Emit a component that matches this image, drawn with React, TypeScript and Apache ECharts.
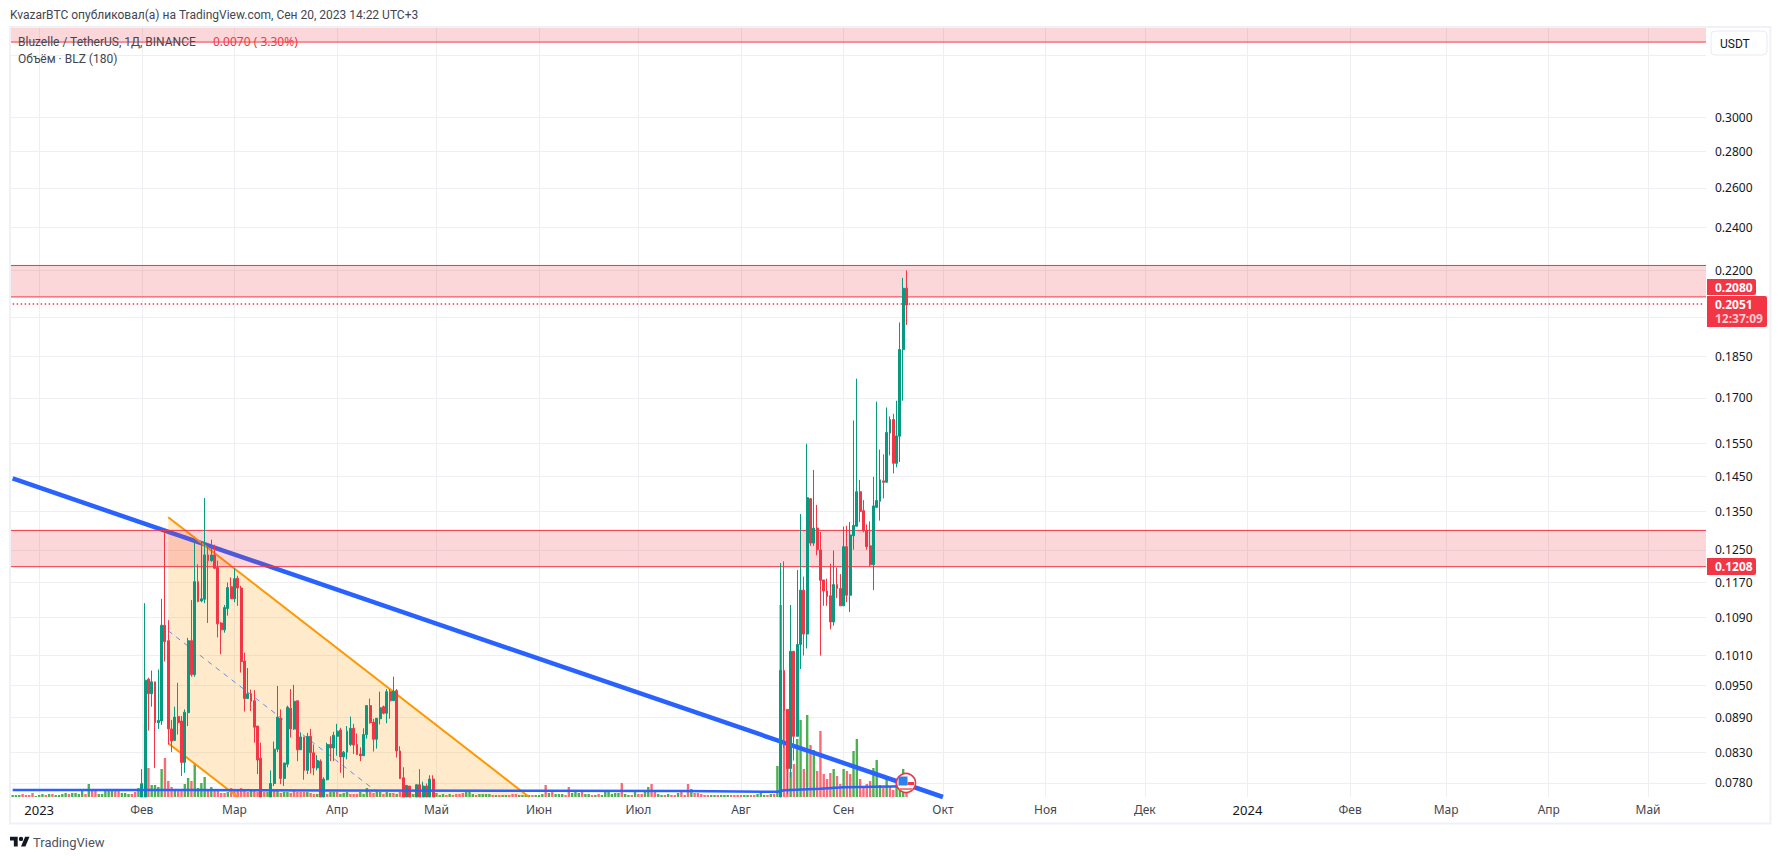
import React, { useEffect, useRef } from 'react';
import * as echarts from 'echarts';

const UP = '#089981';
const DOWN = '#F23645';
const VOL_UP = '#4CAF50';
const VOL_DOWN = '#FA6B78';
const GRID_LINE = '#EEEFF2';
const TREND = '#2962FF';
const ORANGE = '#FF9800';
const FONT = '"Noto Sans", sans-serif';
const HEAD_FONT = 'Roboto, sans-serif';
const PRICE_MIN = 0.0758;

// month labels on the time scale
const monthLabels: Record<string, string> = {
  '2023-01-01': '2023', '2023-02-01': 'Фев', '2023-03-01': 'Мар', '2023-04-01': 'Апр',
  '2023-05-01': 'Май', '2023-06-01': 'Июн', '2023-07-01': 'Июл', '2023-08-01': 'Авг',
  '2023-09-01': 'Сен', '2023-10-01': 'Окт', '2023-11-01': 'Ноя', '2023-12-01': 'Дек',
  '2024-01-01': '2024', '2024-02-01': 'Фев', '2024-03-01': 'Мар', '2024-04-01': 'Апр',
  '2024-05-01': 'Май',
};

const priceTicks = [0.34, 0.3, 0.28, 0.26, 0.24, 0.22, 0.2, 0.185, 0.17, 0.155, 0.145, 0.135, 0.125, 0.117, 0.109, 0.101, 0.095, 0.089, 0.083, 0.078];
const priceLabels = [0.3, 0.28, 0.26, 0.24, 0.22, 0.185, 0.17, 0.155, 0.145, 0.135, 0.125, 0.117, 0.109, 0.101, 0.095, 0.089, 0.083, 0.078];

// [open, close, low, high], daily from 2023-02-01; null = under the visible range
const febCandles: (number[] | null)[] = [
  [0.075, 0.0778, 0.075, 0.0802], [0.0745, 0.096, 0.074, 0.1122], [0.0962, 0.0934, 0.0867, 0.0965], [0.0934, 0.0957, 0.091, 0.0979],
  [0.0957, 0.0881, 0.0804, 0.0957], [0.0881, 0.0885, 0.087, 0.0981], [0.0884, 0.1073, 0.0877, 0.1132], [0.1073, 0.1038, 0.0997, 0.1298],
  [0.104, 0.087, 0.0843, 0.1084], [0.087, 0.0849, 0.083, 0.0886], [0.085, 0.0891, 0.0849, 0.091], [0.0892, 0.0881, 0.086, 0.0955],
  [0.0884, 0.0813, 0.0791, 0.0893], [0.0813, 0.09, 0.0796, 0.0905], [0.0899, 0.104, 0.0875, 0.1046], [0.104, 0.0971, 0.0967, 0.1129],
  [0.0971, 0.1172, 0.0967, 0.1269], [0.1172, 0.1126, 0.1124, 0.1214], [0.1127, 0.1132, 0.1124, 0.1271], [0.1131, 0.1237, 0.1122, 0.1388],
  [0.1237, 0.1223, 0.1078, 0.126], [0.1223, 0.1237, 0.122, 0.1276], [0.1237, 0.1204, 0.1204, 0.1263], [0.1206, 0.1076, 0.1047, 0.1223],
  [0.1078, 0.1063, 0.1012, 0.108], [0.1063, 0.1112, 0.1057, 0.1118], [0.111, 0.1158, 0.1094, 0.117], [0.116, 0.1132, 0.1132, 0.1182],
  [0.1132, 0.1179, 0.1124, 0.1204], [0.118, 0.1157, 0.1116, 0.1186], [0.1157, 0.0997, 0.0975, 0.1162], [0.0998, 0.0925, 0.0901, 0.1015],
  [0.0925, 0.0934, 0.0925, 0.0984], [0.0934, 0.092, 0.0902, 0.0942], [0.0921, 0.0873, 0.0846, 0.0941], [0.0875, 0.0817, 0.0794, 0.0875],
  [0.082, 0.0745, 0.074, 0.0846], null, null, [0.0745, 0.0779, 0.074, 0.08],
  [0.0779, 0.0835, 0.0775, 0.0848], [0.0835, 0.0891, 0.083, 0.0949], [0.0889, 0.0787, 0.0778, 0.0905], [0.0787, 0.0812, 0.0775, 0.0812],
  [0.081, 0.0909, 0.0805, 0.0912], [0.0907, 0.087, 0.0855, 0.0943], [0.087, 0.092, 0.0868, 0.0951], [0.0921, 0.0834, 0.0815, 0.0921],
  [0.0834, 0.0856, 0.0834, 0.0864], [0.0856, 0.08, 0.0785, 0.0856], [0.08, 0.0857, 0.0794, 0.0863], [0.0857, 0.0829, 0.0795, 0.087],
  [0.0829, 0.0804, 0.0792, 0.0843], [0.0804, 0.0816, 0.08, 0.0825], [0.0815, 0.0745, 0.074, 0.0818], [0.0745, 0.0786, 0.074, 0.0789],
  [0.0785, 0.0843, 0.0784, 0.0846], [0.0843, 0.0837, 0.0815, 0.0857], [0.0837, 0.0859, 0.0815, 0.0865], [0.0857, 0.0866, 0.0824, 0.0879],
  [0.0868, 0.0822, 0.0796, 0.0872], [0.0822, 0.083, 0.0788, 0.0832], [0.083, 0.0866, 0.0818, 0.0875], [0.0843, 0.0871, 0.084, 0.0892],
  [0.0871, 0.0842, 0.0827, 0.0879], [0.0843, 0.0826, 0.0826, 0.0862], [0.0827, 0.0824, 0.0815, 0.0838], [0.0824, 0.086, 0.0824, 0.0871],
  [0.086, 0.0912, 0.0853, 0.0912], [0.0912, 0.0881, 0.0879, 0.0925], [0.0882, 0.0852, 0.0831, 0.0888], [0.0852, 0.0889, 0.0836, 0.0889],
  [0.0888, 0.0908, 0.0878, 0.0938], [0.091, 0.0898, 0.0896, 0.0912], [0.0898, 0.0938, 0.088, 0.0943], [0.0938, 0.0921, 0.0888, 0.0943],
  [0.0921, 0.0939, 0.0921, 0.0967], [0.094, 0.0832, 0.0821, 0.0943], [0.0832, 0.0787, 0.0786, 0.084], [0.0788, 0.0745, 0.074, 0.0805],
  [0.0745, 0.0776, 0.074, 0.0776], [0.0775, 0.0745, 0.074, 0.0775], null, [0.0745, 0.0777, 0.074, 0.0777],
  [0.0777, 0.0745, 0.074, 0.0802], [0.0745, 0.0775, 0.074, 0.0782], [0.0775, 0.0745, 0.074, 0.0779], [0.0745, 0.0786, 0.074, 0.0792],
  [0.0786, 0.0745, 0.074, 0.0792],
];

// [open, close, low, high], daily from 2023-08-13
const augCandles: number[][] = [
  [0.0745, 0.0979, 0.074, 0.1217], [0.0979, 0.0903, 0.0838, 0.1221], [0.0905, 0.0803, 0.0762, 0.0905], [0.0803, 0.1018, 0.0789, 0.1118],
  [0.1018, 0.0857, 0.0816, 0.1018], [0.0857, 0.1032, 0.0857, 0.12], [0.1032, 0.1152, 0.0982, 0.1344], [0.1152, 0.1054, 0.1009, 0.1184],
  [0.1054, 0.1389, 0.1024, 0.1549], [0.1386, 0.1267, 0.126, 0.1388], [0.1267, 0.1306, 0.126, 0.1469], [0.1306, 0.125, 0.1236, 0.1369],
  [0.125, 0.1175, 0.1009, 0.1296], [0.1176, 0.115, 0.1116, 0.1176], [0.115, 0.1137, 0.1116, 0.1179], [0.1139, 0.108, 0.1064, 0.1215],
  [0.108, 0.1165, 0.1072, 0.1248], [0.1165, 0.1156, 0.1134, 0.1206], [0.1156, 0.1116, 0.1116, 0.119], [0.1116, 0.1258, 0.1116, 0.131],
  [0.1258, 0.114, 0.1124, 0.1312], [0.114, 0.1288, 0.1102, 0.1322], [0.1286, 0.1313, 0.125, 0.1624], [0.1311, 0.1406, 0.1311, 0.1767],
  [0.1406, 0.1351, 0.1322, 0.144], [0.1353, 0.1299, 0.1295, 0.1382], [0.1299, 0.1258, 0.125, 0.1316], [0.126, 0.1213, 0.1208, 0.1324],
  [0.1213, 0.1366, 0.1152, 0.1449], [0.1362, 0.1381, 0.136, 0.1687], [0.1379, 0.144, 0.1326, 0.1531], [0.1437, 0.1433, 0.1387, 0.1516],
  [0.1433, 0.1585, 0.1433, 0.1667], [0.1583, 0.1627, 0.1513, 0.1637], [0.1627, 0.1489, 0.1459, 0.1646], [0.1489, 0.1574, 0.1477, 0.169],
  [0.1573, 0.1875, 0.1493, 0.198], [0.1874, 0.2122, 0.169, 0.2167], [0.2122, 0.2051, 0.197, 0.22],
];

// daily volume from 2022-12-24, rough
const volumes = [
  2, 2, 2, 3, 2, 2, 4, 1, 2, 3,
  2, 3, 3, 2, 2, 3, 4, 3, 4, 4,
  3, 6, 3, 13, 6, 6, 3, 3, 6, 8,
  6, 7, 6, 4, 4, 3, 3, 5, 9, 14,
  73, 29, 12, 12, 10, 28, 39, 16, 10, 8,
  7, 6, 13, 19, 16, 34, 9, 14, 20, 8,
  10, 6, 6, 4, 4, 5, 9, 6, 6, 9,
  6, 5, 6, 7, 5, 4, 5, 5, 6, 6,
  6, 4, 5, 5, 4, 6, 5, 5, 5, 5,
  4, 3, 3, 5, 4, 3, 5, 5, 5, 3,
  4, 5, 3, 3, 3, 5, 3, 9, 5, 4,
  5, 5, 3, 5, 4, 4, 3, 5, 3, 4,
  5, 3, 5, 5, 4, 5, 5, 3, 4, 2,
  3, 2, 3, 2, 3, 3, 4, 5, 5, 3,
  2, 3, 3, 3, 3, 2, 2, 2, 2, 2,
  2, 3, 3, 2, 2, 2, 2, 2, 2, 2,
  3, 12, 4, 5, 3, 3, 3, 2, 10, 4,
  5, 4, 5, 3, 3, 2, 2, 3, 2, 5,
  5, 3, 4, 4, 14, 3, 2, 2, 5, 3,
  3, 5, 10, 13, 5, 3, 2, 2, 3, 2,
  2, 4, 5, 2, 13, 8, 4, 4, 3, 2,
  2, 2, 2, 2, 2, 2, 2, 2, 2, 2,
  2, 2, 2, 2, 2, 3, 4, 2, 2, 3,
  3, 31, 192, 88, 40, 25, 33, 58, 77, 28,
  82, 52, 47, 26, 66, 23, 18, 24, 28, 21,
  13, 28, 26, 23, 46, 58, 18, 9, 13, 16,
  29, 37, 12, 9, 19, 11, 7, 14, 17, 28,
  5,
];

// G = up day, R = down day, same order as volumes
const volumeSides = [
  'GGGRRRRGGG', 'RGRGGGGRGG', 'GGRGRRGGGG', 'GRRGGGRRGG', 'GRGGGGRRRG', 'RRGGRGGGGR', 'GRRRRGRRRR',
  'RRGRRRRGGR', 'GRGGRRRRRG', 'RRGRGRGGRG', 'GGRRRGGGRR', 'GGRGGRGRGG', 'RGGRRRGRGG', 'GRGRRRRGGG',
  'RGGGGRGRGG', 'RRRGGGGRGG', 'GRGRGGGRRG', 'GGRGGRGRGG', 'GGGGRGGRGR', 'RGGRRGGRGR', 'RGRRRGRRRR',
  'RGGRGGGRRR', 'RGGRRGGGRG', 'RGGRRGRGGR', 'GRGRRRRRGR', 'RGRRGGRRRR', 'GGGRGRRGGG', 'R',
].join('');

// volume moving average, [date, volume]
const volumeMa: [string, number][] = [
  ['2022-12-24', 7], ['2023-02-15', 7], ['2023-04-01', 6.6], ['2023-06-01', 6.2], ['2023-07-15', 6],
  ['2023-08-12', 5.2], ['2023-08-14', 6.7], ['2023-08-25', 8.3], ['2023-09-01', 9.7], ['2023-09-20', 10.7],
];

// drawings, [date, price]
const trendLine: [string, number][] = [['2022-12-24', 0.1444], ['2023-10-01', 0.0758]];
const channelTop: [string, number][] = [['2023-02-09', 0.1335], ['2023-05-29', 0.0758]];
const channelMid: [string, number][] = [['2023-02-09', 0.1061], ['2023-04-13', 0.0766]];
const channelLow: [string, number][] = [['2023-02-09', 0.0845], ['2023-03-02', 0.0758]];

// horizontal zones, [top, bottom]
const zones: [number, number][] = [[0.38, 0.3492], [0.2222, 0.2085], [0.13, 0.1208]];
const lastPrice = 0.2055;

// every day on the time scale, the empty future part included
const categories: string[] = [];
for (let i = 0; i < 512; i++) {
  categories.push(new Date(Date.UTC(2022, 11, 24 + i)).toISOString().slice(0, 10));
}

// candlesticks are not clipped to the grid, so cut them at the bottom of the scale
const candleData = categories.map(() => ['-', '-', '-', '-'] as (number | string)[]);
const putCandles = (start: string, rows: (number[] | null)[]) => {
  const at = categories.indexOf(start);
  rows.forEach((row, i) => {
    if (row) candleData[at + i] = row.map((v) => Math.max(v, PRICE_MIN));
  });
};
putCandles('2023-02-01', febCandles);
putCandles('2023-08-13', augCandles);

const volumeData = volumes.map((v, i) => ({
  value: v,
  itemStyle: { color: volumeSides[i] === 'G' ? VOL_UP : VOL_DOWN },
}));

const LOGO = 'M14 22H7V11H0V4h14v18zM28 22h-8l7.5-18h8L28 22zM24 8a4 4 0 1 1-8 0 4 4 0 1 1 8 0z';
echarts.graphic.registerShape('tvLogo', echarts.graphic.extendPath(LOGO, {}) as any);

const priceTag = (y: number, h: number, w: number) => ({
  type: 'rect',
  shape: { x: 1707, y, width: w, height: h, r: [0, 2, 2, 0] },
  style: { fill: DOWN },
  z: 100,
});

const tagText = (y: number, text: string, opacity = 1) => ({
  type: 'text',
  x: 1715,
  y,
  style: { text, fill: '#fff', opacity, font: `bold 12px ${FONT}`, verticalAlign: 'middle' },
  z: 101,
});

const App: React.FC = () => {
  const chartRef = useRef<HTMLDivElement>(null);

  useEffect(() => {
    if (!chartRef.current) return;
    document.body.style.margin = '0';
    const chart = echarts.init(chartRef.current, undefined, { renderer: 'svg' });

    const option: any = {
      animation: false,
      backgroundColor: '#fff',
      textStyle: { fontFamily: FONT },
      grid: { left: 11, top: 27, width: 1695, height: 770 },
      xAxis: {
        type: 'category',
        data: categories,
        axisLine: { show: false },
        axisTick: { show: false, alignWithLabel: true },
        splitLine: {
          show: true,
          alignWithLabel: true,
          interval: (_: number, value: string) => value in monthLabels,
          lineStyle: { color: GRID_LINE, width: 1 },
        },
        axisLabel: {
          interval: (_: number, value: string) => value in monthLabels,
          formatter: (value: string) => {
            const label = monthLabels[value] || '';
            return label.startsWith('20') ? `{year|${label}}` : label;
          },
          color: '#434651',
          fontFamily: FONT,
          fontSize: 12,
          margin: 6,
          rich: { year: { color: '#131722', fontFamily: FONT, fontSize: 13 } },
        },
      },
      yAxis: [
        {
          type: 'log',
          position: 'right',
          min: PRICE_MIN,
          max: 0.36,
          axisLine: { show: false },
          axisTick: { show: false, customValues: priceTicks },
          splitLine: { show: true, lineStyle: { color: GRID_LINE, width: 1 } },
          axisLabel: {
            customValues: priceLabels,
            formatter: (v: number) => v.toFixed(4),
            color: '#131722',
            fontFamily: FONT,
            fontSize: 12,
            margin: 9,
          },
        },
        { type: 'value', min: 0, max: 770, show: false },
      ],
      series: [
        {
          name: 'channel fill',
          type: 'custom',
          z: 1,
          clip: true,
          data: [[0, 0.1]],
          encode: { x: 0, y: 1 },
          renderItem: (_: any, api: any) => {
            const pt = (p: [string, number]) => api.coord([categories.indexOf(p[0]), p[1]]);
            return {
              type: 'polygon',
              shape: { points: [pt(channelTop[0]), pt(channelTop[1]), pt(channelLow[1]), pt(channelLow[0])] },
              style: { fill: 'rgba(255,152,0,0.2)' },
            };
          },
        },
        {
          name: 'Объём',
          type: 'bar',
          yAxisIndex: 1,
          z: 2,
          barWidth: 2.4,
          data: volumeData,
        },
        {
          name: 'zones',
          type: 'custom',
          z: 4,
          clip: true,
          data: zones.map((z) => [0, z[0], z[1]]),
          encode: { x: 0, y: [1, 2] },
          renderItem: (params: any, api: any) => {
            const top = api.coord([0, api.value(1)])[1];
            const bottom = api.coord([0, api.value(2)])[1];
            const x = params.coordSys.x;
            const w = params.coordSys.width;
            const line = (y: number) => ({
              type: 'line',
              shape: { x1: x, y1: y, x2: x + w, y2: y },
              style: { stroke: DOWN, lineWidth: 1 },
            });
            return {
              type: 'group',
              children: [
                { type: 'rect', shape: { x, y: top, width: w, height: bottom - top }, style: { fill: 'rgba(242,54,69,0.2)' } },
                line(top),
                line(bottom),
              ],
            };
          },
        },
        {
          name: 'Trend',
          type: 'line',
          z: 3,
          data: trendLine,
          showSymbol: false,
          lineStyle: { color: TREND, width: 4.5 },
        },
        {
          name: 'channel top',
          type: 'line',
          z: 3,
          data: channelTop,
          showSymbol: false,
          lineStyle: { color: ORANGE, width: 2 },
        },
        {
          name: 'channel low',
          type: 'line',
          z: 3,
          data: channelLow,
          showSymbol: false,
          lineStyle: { color: ORANGE, width: 2 },
        },
        {
          name: 'channel mid',
          type: 'line',
          z: 3,
          data: channelMid,
          showSymbol: false,
          lineStyle: { color: TREND, width: 1, type: [5, 5], opacity: 0.7 },
        },
        {
          name: 'BLZUSDT',
          type: 'candlestick',
          z: 5,
          barWidth: 2.4,
          data: candleData,
          itemStyle: {
            color: UP,
            color0: DOWN,
            borderColor: UP,
            borderColor0: DOWN,
            borderWidth: 1,
          },
        },
        {
          name: 'last price',
          type: 'line',
          z: 6,
          data: [[categories[0], lastPrice], [categories[categories.length - 1], lastPrice]],
          showSymbol: false,
          lineStyle: { color: DOWN, width: 1.5, type: [1.5, 2.5] },
        },
        {
          name: 'Объём MA',
          type: 'line',
          yAxisIndex: 1,
          z: 6,
          data: volumeMa,
          showSymbol: false,
          lineStyle: { color: TREND, width: 2.5 },
        },
      ],
      graphic: [
        { type: 'rect', shape: { x: 10, y: 27, width: 1760.5, height: 796.5 }, style: { fill: 'none', stroke: '#EFF1F7', lineWidth: 2 }, z: 90 },
        { type: 'text', x: 10, y: 15, style: { text: 'KvazarBTC опубликовал(а) на TradingView.com, Сен 20, 2023 14:22 UTC+3', fill: '#434651', font: `12px ${HEAD_FONT}`, verticalAlign: 'middle' }, z: 100 },
        { type: 'text', x: 18, y: 41.5, style: { text: 'Bluzelle / TetherUS, 1Д, BINANCE', fill: '#434651', font: `12px ${HEAD_FONT}`, verticalAlign: 'middle' }, z: 100 },
        { type: 'text', x: 213, y: 41.5, style: { text: '0.0070 ( 3.30%)', fill: DOWN, font: `12px ${FONT}`, verticalAlign: 'middle' }, z: 100 },
        { type: 'text', x: 18, y: 59, style: { text: 'Объём · BLZ (180)', fill: '#434651', font: `12px ${HEAD_FONT}`, verticalAlign: 'middle' }, z: 100 },
        { type: 'rect', shape: { x: 1711, y: 31, width: 56, height: 24, r: 4 }, style: { fill: '#fff', stroke: '#E8EAF1', lineWidth: 1 }, z: 100 },
        { type: 'text', x: 1720, y: 43.5, style: { text: 'USDT', fill: '#131722', font: `12px ${HEAD_FONT}`, verticalAlign: 'middle' }, z: 101 },
        priceTag(279, 16, 49),
        tagText(287, '0.2080'),
        priceTag(296, 31, 60),
        tagText(304, '0.2051'),
        tagText(318, '12:37:09', 0.75),
        priceTag(558, 17, 49),
        tagText(566.5, '0.1208'),
        // earnings flag at the last candle
        { type: 'circle', shape: { cx: 906, cy: 783, r: 9.5 }, style: { fill: '#fff', stroke: DOWN, lineWidth: 1.6 }, z: 100 },
        { type: 'rect', shape: { x: 899.5, y: 788, width: 13, height: 2 }, style: { fill: '#F77C80' }, z: 101 },
        { type: 'rect', shape: { x: 907.5, y: 782, width: 6.5, height: 3 }, style: { fill: DOWN }, z: 101 },
        { type: 'rect', shape: { x: 898.5, y: 776.5, width: 9, height: 9 }, style: { fill: '#2F80ED' }, z: 101 },
        { type: 'tvLogo', x: 10, y: 834.5, scaleX: 0.55, scaleY: 0.55, style: { fill: '#131722' }, z: 100 },
        { type: 'text', x: 33, y: 842.5, style: { text: 'TradingView', fill: '#50535E', font: `13px ${HEAD_FONT}`, verticalAlign: 'middle' }, z: 100 },
      ],
    };

    chart.setOption(option);

    return () => {
      chart.dispose();
    };
  }, []);

  return <div ref={chartRef} style={{ position: 'absolute', left: 0, top: 0, width: 1781, height: 860 }} />;
};

export default App;
